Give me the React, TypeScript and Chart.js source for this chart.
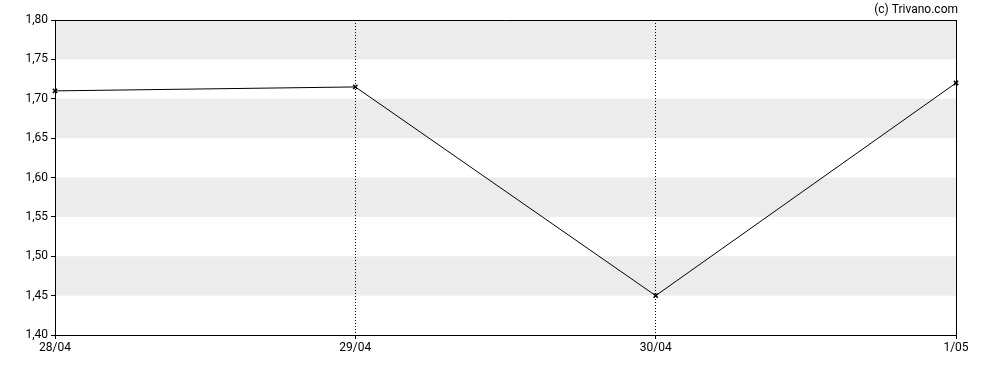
import React, { useEffect, useRef } from "react";
import { Chart, registerables } from "chart.js";

Chart.register(...registerables);

const categories: string[] = ["28/04", "29/04", "30/04", "1/05"];
const prices: number[] = [1.71, 1.715, 1.45, 1.72];
const yMin = 1.4;
const yMax = 1.8;
const yStep = 0.05;
const bandRanges: [number, number][] = [
  [1.75, 1.8],
  [1.65, 1.7],
  [1.55, 1.6],
  [1.45, 1.5],
];
const watermark = "(c) Trivano.com";

const FONT = "Roboto, 'Noto Sans', sans-serif";

const bandsPlugin = {
  id: "bands",
  beforeDraw(chart: any) {
    const { ctx, chartArea, scales } = chart;
    const y = scales.y;
    ctx.save();
    ctx.fillStyle = "#ececec";
    for (const [a, b] of bandRanges) {
      const y1 = y.getPixelForValue(b);
      const y2 = y.getPixelForValue(a);
      ctx.fillRect(chartArea.left, y1, chartArea.right - chartArea.left, y2 - y1);
    }
    ctx.restore();
  },
  afterDraw(chart: any) {
    const { ctx, chartArea } = chart;
    ctx.save();
    ctx.strokeStyle = "#000";
    ctx.lineWidth = 1;
    ctx.beginPath();
    ctx.moveTo(chartArea.left, chartArea.top + 0.5);
    ctx.lineTo(chartArea.right + 0.5, chartArea.top + 0.5);
    ctx.lineTo(chartArea.right + 0.5, chartArea.bottom);
    ctx.stroke();
    ctx.fillStyle = "#000";
    ctx.font = `12px ${FONT}`;
    ctx.textAlign = "right";
    ctx.textBaseline = "alphabetic";
    ctx.fillText(watermark, chartArea.right + 2, 13);
    ctx.restore();
  },
};

export default function App() {
  const ref = useRef<HTMLCanvasElement>(null);
  useEffect(() => {
    if (!ref.current) return;
    const chart = new Chart(ref.current, {
      type: "line",
      data: {
        labels: categories,
        datasets: [
          {
            data: prices,
            borderColor: "#000",
            borderWidth: 1,
            pointStyle: "crossRot",
            pointRadius: 3,
            pointBorderColor: "#000",
            pointBorderWidth: 1.5,
            tension: 0,
            clip: false as any,
          },
        ],
      },
      options: {
        animation: false,
        responsive: false,
        maintainAspectRatio: false,
        layout: { padding: { top: 20, right: 32, left: 0, bottom: 0 } },
        plugins: { legend: { display: false }, tooltip: { enabled: false } },
        scales: {
          x: {
            type: "category",
            offset: false,
            afterFit(scale: any) {
              scale.height = 35;
            },
            grid: {
              color: "#000",
              lineWidth: 1,
              tickLength: 4,
              tickColor: "#000",
              tickBorderDash: [],
            } as any,
            border: { color: "#000", width: 1, dash: [1, 2] },
            ticks: {
              color: "#000",
              font: { family: FONT, size: 12 },
              padding: 2,
              maxRotation: 0,
              autoSkip: false,
            },
          },
          y: {
            min: yMin,
            max: yMax,
            afterFit(scale: any) {
              scale.width = 55;
            },
            grid: {
              drawOnChartArea: false,
              tickLength: 4,
              tickColor: "#000",
            },
            border: { color: "#000", width: 1 },
            ticks: {
              stepSize: yStep,
              color: "#000",
              font: { family: FONT, size: 12 },
              padding: 3,
              callback: (v: any) => Number(v).toFixed(2).replace(".", ","),
            },
          },
        },
      },
      plugins: [bandsPlugin],
    });
    return () => chart.destroy();
  }, []);
  return (
    <div style={{ position: "fixed", left: 0, top: 0, width: 988, height: 370, background: "#fff" }}>
      <canvas ref={ref} width={988} height={370} style={{ width: 988, height: 370 }} />
    </div>
  );
}
